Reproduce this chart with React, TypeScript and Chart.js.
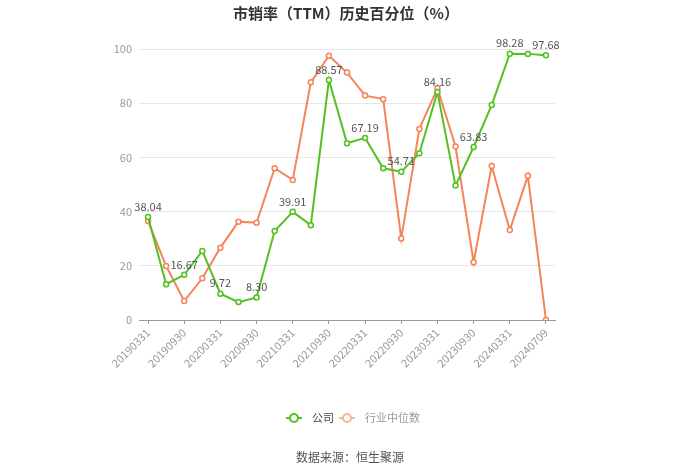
import React, { useEffect, useRef } from "react";
import { Chart, registerables } from "chart.js";

Chart.register(...registerables);

const categories = [
  "20190331", "20190630", "20190930", "20191231",
  "20200331", "20200630", "20200930", "20201231",
  "20210331", "20210630", "20210930", "20211231",
  "20220331", "20220630", "20220930", "20221231",
  "20230331", "20230630", "20230930", "20231231",
  "20240331", "20240630", "20240709",
];

const companyValues = [
  38.04, 13.2, 16.67, 25.5, 9.72, 6.6, 8.3, 32.8, 39.91, 35.0, 88.57, 65.2,
  67.19, 56.0, 54.71, 61.5, 84.16, 49.6, 63.83, 79.3, 98.28, 98.2, 97.68,
];

const industryValues = [
  36.5, 19.9, 7.0, 15.4, 26.7, 36.3, 35.9, 56.0, 51.7, 87.7, 97.5, 91.3,
  82.8, 81.5, 30.1, 70.5, 85.5, 64.0, 21.3, 56.8, 33.2, 53.2, 0,
];

const yTicks = [0, 20, 40, 60, 80, 100];

const seriesNames = ["公司", "行业中位数"];
const titleText = "市销率（TTM）历史百分位（%）";
const sourceText = "数据来源：恒生聚源";

const GREEN = "#52c11f";
const ORANGE = "#f5845a";
const FONT = '"Noto Sans CJK SC", "Noto Sans", sans-serif';

const decorPlugin = {
  id: "decor",
  afterDatasetsDraw(chart: any) {
    const ctx = chart.ctx;
    const meta = chart.getDatasetMeta(0);
    ctx.save();
    ctx.font = `11px ${FONT}`;
    ctx.fillStyle = "#555";
    ctx.textAlign = "center";
    ctx.textBaseline = "bottom";
    meta.data.forEach((pt: any, i: number) => {
      if (i % 2 !== 0) return;
      const v = companyValues[i];
      ctx.fillText(v.toFixed(2), pt.x, pt.y - 5);
    });
    ctx.restore();
  },
  afterDraw(chart: any) {
    const ctx = chart.ctx;
    const w = chart.width;
    ctx.save();
    // title
    ctx.font = `bold 15px ${FONT}`;
    ctx.fillStyle = "#333";
    ctx.textAlign = "center";
    ctx.textBaseline = "middle";
    ctx.fillText(titleText, w / 2 - 4, 13);

    // legend
    const items = [
      { name: seriesNames[0], color: GREEN, text: "#444", x: 286 },
      { name: seriesNames[1], color: "#f7b49a", text: "#999", x: 339 },
    ];
    const ly = 418;
    items.forEach((it) => {
      ctx.strokeStyle = it.color;
      ctx.lineWidth = 2;
      ctx.beginPath();
      ctx.moveTo(it.x, ly);
      ctx.lineTo(it.x + 16, ly);
      ctx.stroke();
      ctx.beginPath();
      ctx.fillStyle = "#fff";
      ctx.arc(it.x + 8, ly, 4, 0, Math.PI * 2);
      ctx.fill();
      ctx.stroke();
      ctx.font = `11px ${FONT}`;
      ctx.fillStyle = it.text;
      ctx.textAlign = "left";
      ctx.textBaseline = "middle";
      ctx.fillText(it.name, it.x + 26, ly);
    });

    // source
    ctx.font = `12px ${FONT}`;
    ctx.fillStyle = "#555";
    ctx.textAlign = "center";
    ctx.textBaseline = "middle";
    ctx.fillText(sourceText, w / 2, 457);
    ctx.restore();
  },
};

export default function App() {
  const ref = useRef<HTMLCanvasElement | null>(null);
  useEffect(() => {
    if (!ref.current) return;
    const chart = new Chart(ref.current, {
      type: "line",
      data: {
        labels: categories,
        datasets: [
          {
            label: seriesNames[0],
            data: companyValues,
            borderColor: GREEN,
            backgroundColor: "#fff",
            borderWidth: 2,
            pointRadius: 2.5,
            pointBorderWidth: 1.5,
            pointBackgroundColor: "#fff",
            pointBorderColor: GREEN,
            tension: 0,
          },
          {
            label: seriesNames[1],
            data: industryValues,
            borderColor: ORANGE,
            backgroundColor: "#fff",
            borderWidth: 2,
            pointRadius: 2.5,
            pointBorderWidth: 1.5,
            pointBackgroundColor: "#fff",
            pointBorderColor: ORANGE,
            tension: 0,
          },
        ],
      },
      options: {
        responsive: false,
        animation: false,
        layout: { padding: { left: 0, right: 145, top: 49, bottom: 0 } },
        plugins: {
          legend: { display: false },
          title: { display: false },
          tooltip: { enabled: false },
        },
        scales: {
          x: {
            offset: true,
            afterFit(scale: any) {
              scale.height = 474 - 320;
            },
            grid: {
              display: true,
              drawOnChartArea: false,
              drawTicks: true,
              tickLength: 4,
              color: (c: any) => (c.index % 2 === 0 ? "#999" : "rgba(0,0,0,0)"),
              offset: false,
            },
            border: { display: true, color: "#999", width: 1 },
            ticks: {
              autoSkip: false,
              maxRotation: 45,
              minRotation: 45,
              padding: 2,
              color: "#999",
              font: { size: 11, family: FONT },
              callback: (_v: any, i: number) => (i % 2 === 0 ? categories[i] : ""),
            },
          },
          y: {
            min: 0,
            max: 100,
            afterFit(scale: any) {
              scale.width = 139;
            },
            afterBuildTicks(scale: any) {
              scale.ticks = yTicks.map((v) => ({ value: v }));
            },
            grid: { color: "#e6e6e6", drawTicks: false },
            border: { display: false },
            ticks: {
              padding: 7,
              color: "#999",
              font: { size: 11, family: FONT },
            },
          },
        },
      },
      plugins: [decorPlugin],
    });
    return () => chart.destroy();
  }, []);
  return (
    <div style={{ position: "absolute", left: 0, top: 0, width: 700, height: 474, background: "#fff" }}>
      <canvas ref={ref} width={700} height={474} style={{ width: 700, height: 474 }} />
    </div>
  );
}
